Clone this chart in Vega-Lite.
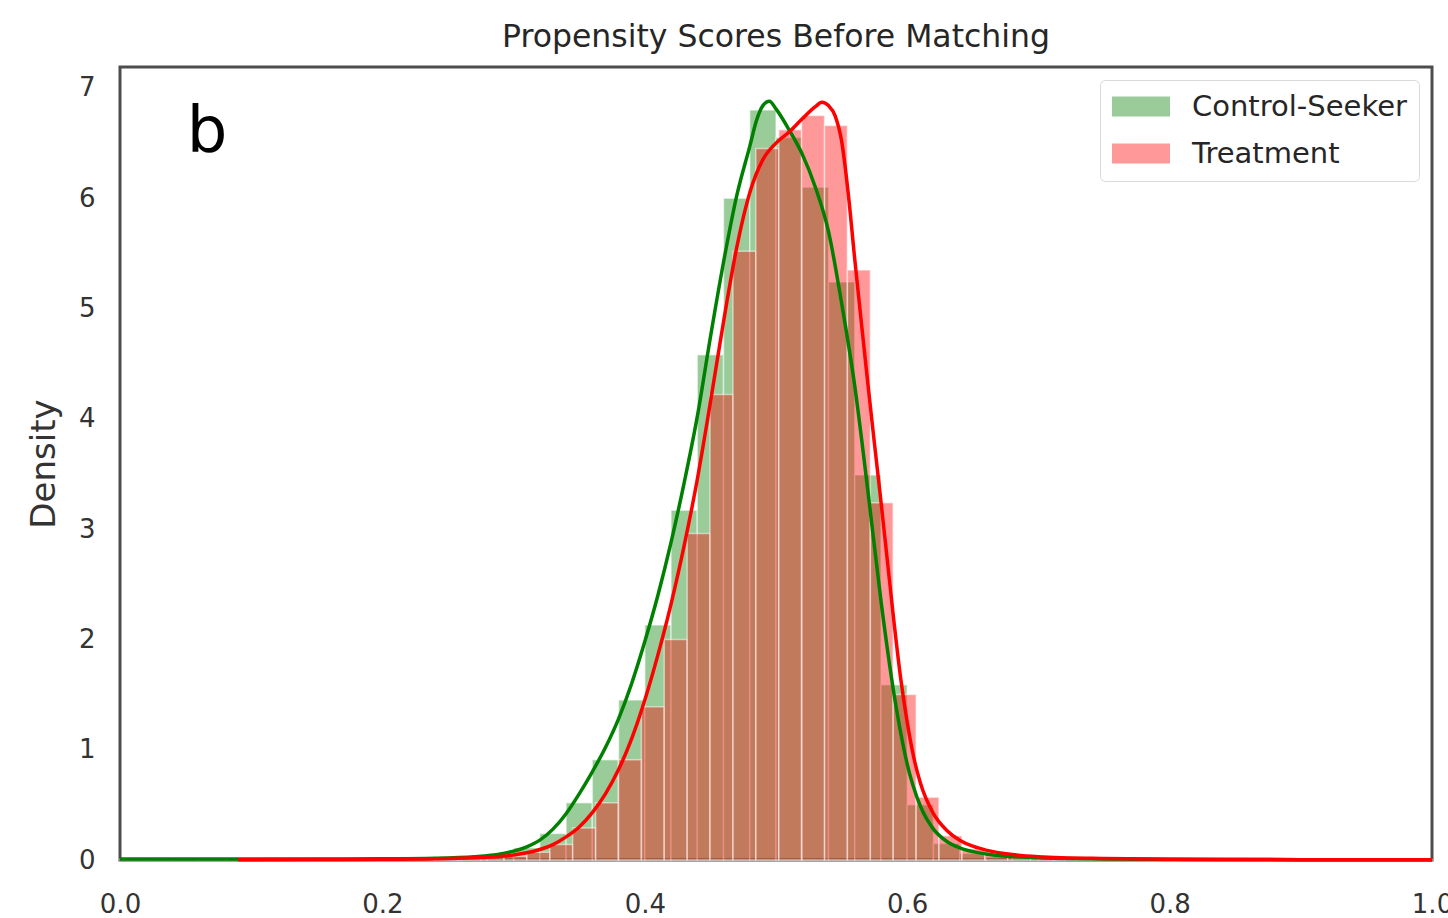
{
  "$schema": "https://vega.github.io/schema/vega-lite/v6.json",
  "width": 1312,
  "height": 793,
  "autosize": {"type": "none"},
  "padding": {"left": 120, "top": 67, "right": 16, "bottom": 58},
  "background": "white",
  "title": {
    "text": "Propensity Scores Before Matching",
    "font": "DejaVu Sans",
    "fontSize": 31.5,
    "fontWeight": "normal",
    "color": "#262626",
    "anchor": "middle",
    "offset": 14
  },
  "config": {
    "view": {"stroke": "#4d4d4d", "strokeWidth": 3},
    "axis": {
      "grid": false,
      "ticks": false,
      "domain": false,
      "labelFont": "DejaVu Sans",
      "labelFontSize": 26,
      "labelColor": "#333333",
      "titleFont": "DejaVu Sans",
      "titleFontWeight": "normal",
      "titleColor": "#333333"
    },
    "legend": {
      "orient": "top-right",
      "offset": 13,
      "symbolType": "M-1,-0.69H3V0.69H-1Z",
      "symbolSize": 841,
      "symbolOpacity": 0.4,
      "symbolStrokeWidth": 0,
      "labelFont": "DejaVu Sans",
      "labelFontSize": 29,
      "labelColor": "#262626",
      "labelOffset": 51,
      "labelLimit": 400,
      "rowPadding": 17,
      "padding": 12,
      "strokeColor": "#d9d9d9",
      "fillColor": "white",
      "cornerRadius": 5
    }
  },
  "datasets": {
    "bars": [
      {"series": "Control-Seeker", "bin_start": 0.00, "bin_end": 0.02, "density": 0.006},
      {"series": "Control-Seeker", "bin_start": 0.02, "bin_end": 0.04, "density": 0.006},
      {"series": "Control-Seeker", "bin_start": 0.04, "bin_end": 0.06, "density": 0.006},
      {"series": "Control-Seeker", "bin_start": 0.06, "bin_end": 0.08, "density": 0.006},
      {"series": "Control-Seeker", "bin_start": 0.08, "bin_end": 0.10, "density": 0.006},
      {"series": "Control-Seeker", "bin_start": 0.10, "bin_end": 0.12, "density": 0.006},
      {"series": "Control-Seeker", "bin_start": 0.12, "bin_end": 0.14, "density": 0.006},
      {"series": "Control-Seeker", "bin_start": 0.14, "bin_end": 0.16, "density": 0.007},
      {"series": "Control-Seeker", "bin_start": 0.16, "bin_end": 0.18, "density": 0.007},
      {"series": "Control-Seeker", "bin_start": 0.18, "bin_end": 0.20, "density": 0.008},
      {"series": "Control-Seeker", "bin_start": 0.20, "bin_end": 0.22, "density": 0.009},
      {"series": "Control-Seeker", "bin_start": 0.22, "bin_end": 0.24, "density": 0.011},
      {"series": "Control-Seeker", "bin_start": 0.24, "bin_end": 0.26, "density": 0.015},
      {"series": "Control-Seeker", "bin_start": 0.26, "bin_end": 0.28, "density": 0.025},
      {"series": "Control-Seeker", "bin_start": 0.28, "bin_end": 0.30, "density": 0.05},
      {"series": "Control-Seeker", "bin_start": 0.30, "bin_end": 0.32, "density": 0.11},
      {"series": "Control-Seeker", "bin_start": 0.32, "bin_end": 0.34, "density": 0.24},
      {"series": "Control-Seeker", "bin_start": 0.34, "bin_end": 0.36, "density": 0.52},
      {"series": "Control-Seeker", "bin_start": 0.36, "bin_end": 0.38, "density": 0.91},
      {"series": "Control-Seeker", "bin_start": 0.38, "bin_end": 0.40, "density": 1.45},
      {"series": "Control-Seeker", "bin_start": 0.40, "bin_end": 0.42, "density": 2.13},
      {"series": "Control-Seeker", "bin_start": 0.42, "bin_end": 0.44, "density": 3.17},
      {"series": "Control-Seeker", "bin_start": 0.44, "bin_end": 0.46, "density": 4.58},
      {"series": "Control-Seeker", "bin_start": 0.46, "bin_end": 0.48, "density": 6.0},
      {"series": "Control-Seeker", "bin_start": 0.48, "bin_end": 0.50, "density": 6.8},
      {"series": "Control-Seeker", "bin_start": 0.50, "bin_end": 0.52, "density": 6.55},
      {"series": "Control-Seeker", "bin_start": 0.52, "bin_end": 0.54, "density": 6.1},
      {"series": "Control-Seeker", "bin_start": 0.54, "bin_end": 0.56, "density": 5.24},
      {"series": "Control-Seeker", "bin_start": 0.56, "bin_end": 0.58, "density": 3.49},
      {"series": "Control-Seeker", "bin_start": 0.58, "bin_end": 0.60, "density": 1.59},
      {"series": "Control-Seeker", "bin_start": 0.60, "bin_end": 0.62, "density": 0.5},
      {"series": "Control-Seeker", "bin_start": 0.62, "bin_end": 0.64, "density": 0.15},
      {"series": "Control-Seeker", "bin_start": 0.64, "bin_end": 0.66, "density": 0.06},
      {"series": "Control-Seeker", "bin_start": 0.66, "bin_end": 0.68, "density": 0.03},
      {"series": "Control-Seeker", "bin_start": 0.68, "bin_end": 0.70, "density": 0.018},
      {"series": "Control-Seeker", "bin_start": 0.70, "bin_end": 0.72, "density": 0.012},
      {"series": "Control-Seeker", "bin_start": 0.72, "bin_end": 0.74, "density": 0.009},
      {"series": "Control-Seeker", "bin_start": 0.74, "bin_end": 0.76, "density": 0.007},
      {"series": "Control-Seeker", "bin_start": 0.76, "bin_end": 0.78, "density": 0.006},
      {"series": "Control-Seeker", "bin_start": 0.78, "bin_end": 0.80, "density": 0.005},
      {"series": "Control-Seeker", "bin_start": 0.80, "bin_end": 0.82, "density": 0.004},
      {"series": "Control-Seeker", "bin_start": 0.82, "bin_end": 0.84, "density": 0.004},
      {"series": "Control-Seeker", "bin_start": 0.84, "bin_end": 0.86, "density": 0.004},
      {"series": "Control-Seeker", "bin_start": 0.86, "bin_end": 0.88, "density": 0.004},
      {"series": "Control-Seeker", "bin_start": 0.88, "bin_end": 0.90, "density": 0.004},
      {"series": "Control-Seeker", "bin_start": 0.90, "bin_end": 0.92, "density": 0.004},
      {"series": "Control-Seeker", "bin_start": 0.92, "bin_end": 0.94, "density": 0.004},
      {"series": "Control-Seeker", "bin_start": 0.94, "bin_end": 0.96, "density": 0.004},
      {"series": "Control-Seeker", "bin_start": 0.96, "bin_end": 0.98, "density": 0.004},
      {"series": "Control-Seeker", "bin_start": 0.98, "bin_end": 1.00, "density": 0.004},
      {"series": "Treatment", "bin_start": 0.1007, "bin_end": 0.1182, "density": 0.004},
      {"series": "Treatment", "bin_start": 0.1182, "bin_end": 0.1356, "density": 0.004},
      {"series": "Treatment", "bin_start": 0.1356, "bin_end": 0.1531, "density": 0.004},
      {"series": "Treatment", "bin_start": 0.1531, "bin_end": 0.1705, "density": 0.005},
      {"series": "Treatment", "bin_start": 0.1705, "bin_end": 0.1880, "density": 0.005},
      {"series": "Treatment", "bin_start": 0.1880, "bin_end": 0.2054, "density": 0.006},
      {"series": "Treatment", "bin_start": 0.2054, "bin_end": 0.2229, "density": 0.008},
      {"series": "Treatment", "bin_start": 0.2229, "bin_end": 0.2403, "density": 0.01},
      {"series": "Treatment", "bin_start": 0.2403, "bin_end": 0.2578, "density": 0.012},
      {"series": "Treatment", "bin_start": 0.2578, "bin_end": 0.2752, "density": 0.016},
      {"series": "Treatment", "bin_start": 0.2752, "bin_end": 0.2927, "density": 0.022},
      {"series": "Treatment", "bin_start": 0.2927, "bin_end": 0.3101, "density": 0.035},
      {"series": "Treatment", "bin_start": 0.3101, "bin_end": 0.3276, "density": 0.07},
      {"series": "Treatment", "bin_start": 0.3276, "bin_end": 0.3450, "density": 0.14},
      {"series": "Treatment", "bin_start": 0.3450, "bin_end": 0.3625, "density": 0.29},
      {"series": "Treatment", "bin_start": 0.3625, "bin_end": 0.3799, "density": 0.52},
      {"series": "Treatment", "bin_start": 0.3799, "bin_end": 0.3974, "density": 0.91},
      {"series": "Treatment", "bin_start": 0.3974, "bin_end": 0.4148, "density": 1.39},
      {"series": "Treatment", "bin_start": 0.4148, "bin_end": 0.4323, "density": 2.0},
      {"series": "Treatment", "bin_start": 0.4323, "bin_end": 0.4497, "density": 2.96},
      {"series": "Treatment", "bin_start": 0.4497, "bin_end": 0.4672, "density": 4.22},
      {"series": "Treatment", "bin_start": 0.4672, "bin_end": 0.4846, "density": 5.52},
      {"series": "Treatment", "bin_start": 0.4846, "bin_end": 0.5021, "density": 6.45},
      {"series": "Treatment", "bin_start": 0.5021, "bin_end": 0.5195, "density": 6.62},
      {"series": "Treatment", "bin_start": 0.5195, "bin_end": 0.5370, "density": 6.75},
      {"series": "Treatment", "bin_start": 0.5370, "bin_end": 0.5544, "density": 6.66},
      {"series": "Treatment", "bin_start": 0.5544, "bin_end": 0.5719, "density": 5.35},
      {"series": "Treatment", "bin_start": 0.5719, "bin_end": 0.5893, "density": 3.24},
      {"series": "Treatment", "bin_start": 0.5893, "bin_end": 0.6068, "density": 1.5},
      {"series": "Treatment", "bin_start": 0.6068, "bin_end": 0.6242, "density": 0.57},
      {"series": "Treatment", "bin_start": 0.6242, "bin_end": 0.6417, "density": 0.22},
      {"series": "Treatment", "bin_start": 0.6417, "bin_end": 0.6591, "density": 0.1},
      {"series": "Treatment", "bin_start": 0.6591, "bin_end": 0.6766, "density": 0.05},
      {"series": "Treatment", "bin_start": 0.6766, "bin_end": 0.6940, "density": 0.03},
      {"series": "Treatment", "bin_start": 0.6940, "bin_end": 0.7115, "density": 0.02},
      {"series": "Treatment", "bin_start": 0.7115, "bin_end": 0.7289, "density": 0.013},
      {"series": "Treatment", "bin_start": 0.7289, "bin_end": 0.7464, "density": 0.01},
      {"series": "Treatment", "bin_start": 0.7464, "bin_end": 0.7638, "density": 0.008},
      {"series": "Treatment", "bin_start": 0.7638, "bin_end": 0.7813, "density": 0.006},
      {"series": "Treatment", "bin_start": 0.7813, "bin_end": 0.7987, "density": 0.005},
      {"series": "Treatment", "bin_start": 0.7987, "bin_end": 0.8162, "density": 0.005},
      {"series": "Treatment", "bin_start": 0.8162, "bin_end": 0.8336, "density": 0.004},
      {"series": "Treatment", "bin_start": 0.8336, "bin_end": 0.8511, "density": 0.004},
      {"series": "Treatment", "bin_start": 0.8511, "bin_end": 0.8685, "density": 0.004},
      {"series": "Treatment", "bin_start": 0.8685, "bin_end": 0.8860, "density": 0.003},
      {"series": "Treatment", "bin_start": 0.8860, "bin_end": 0.9034, "density": 0.003},
      {"series": "Treatment", "bin_start": 0.9034, "bin_end": 0.9209, "density": 0.003},
      {"series": "Treatment", "bin_start": 0.9209, "bin_end": 0.9383, "density": 0.003},
      {"series": "Treatment", "bin_start": 0.9383, "bin_end": 0.9558, "density": 0.003},
      {"series": "Treatment", "bin_start": 0.9558, "bin_end": 0.9732, "density": 0.003},
      {"series": "Treatment", "bin_start": 0.9732, "bin_end": 0.9907, "density": 0.003}
    ],
    "kde": [
      {"series": "Control-Seeker", "score": 0.00, "density": 0.008},
      {"series": "Control-Seeker", "score": 0.05, "density": 0.008},
      {"series": "Control-Seeker", "score": 0.10, "density": 0.008},
      {"series": "Control-Seeker", "score": 0.15, "density": 0.009},
      {"series": "Control-Seeker", "score": 0.20, "density": 0.011},
      {"series": "Control-Seeker", "score": 0.24, "density": 0.016},
      {"series": "Control-Seeker", "score": 0.27, "density": 0.03},
      {"series": "Control-Seeker", "score": 0.29, "density": 0.055},
      {"series": "Control-Seeker", "score": 0.30, "density": 0.08},
      {"series": "Control-Seeker", "score": 0.31, "density": 0.12},
      {"series": "Control-Seeker", "score": 0.32, "density": 0.18},
      {"series": "Control-Seeker", "score": 0.33, "density": 0.28},
      {"series": "Control-Seeker", "score": 0.34, "density": 0.42},
      {"series": "Control-Seeker", "score": 0.35, "density": 0.6},
      {"series": "Control-Seeker", "score": 0.36, "density": 0.8},
      {"series": "Control-Seeker", "score": 0.37, "density": 1.02},
      {"series": "Control-Seeker", "score": 0.38, "density": 1.28},
      {"series": "Control-Seeker", "score": 0.39, "density": 1.6},
      {"series": "Control-Seeker", "score": 0.40, "density": 1.98},
      {"series": "Control-Seeker", "score": 0.41, "density": 2.4},
      {"series": "Control-Seeker", "score": 0.42, "density": 2.88},
      {"series": "Control-Seeker", "score": 0.43, "density": 3.42},
      {"series": "Control-Seeker", "score": 0.44, "density": 4.02},
      {"series": "Control-Seeker", "score": 0.45, "density": 4.74},
      {"series": "Control-Seeker", "score": 0.46, "density": 5.42},
      {"series": "Control-Seeker", "score": 0.47, "density": 6.02},
      {"series": "Control-Seeker", "score": 0.48, "density": 6.47},
      {"series": "Control-Seeker", "score": 0.485, "density": 6.7},
      {"series": "Control-Seeker", "score": 0.49, "density": 6.84},
      {"series": "Control-Seeker", "score": 0.495, "density": 6.88},
      {"series": "Control-Seeker", "score": 0.50, "density": 6.81},
      {"series": "Control-Seeker", "score": 0.51, "density": 6.62},
      {"series": "Control-Seeker", "score": 0.52, "density": 6.4},
      {"series": "Control-Seeker", "score": 0.53, "density": 6.1},
      {"series": "Control-Seeker", "score": 0.54, "density": 5.7},
      {"series": "Control-Seeker", "score": 0.55, "density": 5.05},
      {"series": "Control-Seeker", "score": 0.56, "density": 4.3},
      {"series": "Control-Seeker", "score": 0.57, "density": 3.35},
      {"series": "Control-Seeker", "score": 0.58, "density": 2.35},
      {"series": "Control-Seeker", "score": 0.59, "density": 1.5},
      {"series": "Control-Seeker", "score": 0.60, "density": 0.87},
      {"series": "Control-Seeker", "score": 0.61, "density": 0.49},
      {"series": "Control-Seeker", "score": 0.62, "density": 0.28},
      {"series": "Control-Seeker", "score": 0.63, "density": 0.17},
      {"series": "Control-Seeker", "score": 0.64, "density": 0.11},
      {"series": "Control-Seeker", "score": 0.66, "density": 0.055},
      {"series": "Control-Seeker", "score": 0.68, "density": 0.032},
      {"series": "Control-Seeker", "score": 0.70, "density": 0.02},
      {"series": "Control-Seeker", "score": 0.75, "density": 0.01},
      {"series": "Control-Seeker", "score": 0.80, "density": 0.006},
      {"series": "Control-Seeker", "score": 0.90, "density": 0.003},
      {"series": "Control-Seeker", "score": 1.00, "density": 0.002},
      {"series": "Treatment", "score": 0.09, "density": 0.003},
      {"series": "Treatment", "score": 0.15, "density": 0.004},
      {"series": "Treatment", "score": 0.20, "density": 0.007},
      {"series": "Treatment", "score": 0.25, "density": 0.014},
      {"series": "Treatment", "score": 0.28, "density": 0.025},
      {"series": "Treatment", "score": 0.30, "density": 0.045},
      {"series": "Treatment", "score": 0.31, "density": 0.065},
      {"series": "Treatment", "score": 0.32, "density": 0.095},
      {"series": "Treatment", "score": 0.33, "density": 0.14},
      {"series": "Treatment", "score": 0.34, "density": 0.21},
      {"series": "Treatment", "score": 0.35, "density": 0.3},
      {"series": "Treatment", "score": 0.36, "density": 0.43},
      {"series": "Treatment", "score": 0.37, "density": 0.6},
      {"series": "Treatment", "score": 0.38, "density": 0.82},
      {"series": "Treatment", "score": 0.39, "density": 1.1},
      {"series": "Treatment", "score": 0.40, "density": 1.45},
      {"series": "Treatment", "score": 0.41, "density": 1.86},
      {"series": "Treatment", "score": 0.42, "density": 2.32},
      {"series": "Treatment", "score": 0.43, "density": 2.85},
      {"series": "Treatment", "score": 0.44, "density": 3.45},
      {"series": "Treatment", "score": 0.45, "density": 4.15},
      {"series": "Treatment", "score": 0.46, "density": 4.88},
      {"series": "Treatment", "score": 0.47, "density": 5.55},
      {"series": "Treatment", "score": 0.48, "density": 6.05},
      {"series": "Treatment", "score": 0.49, "density": 6.35},
      {"series": "Treatment", "score": 0.50, "density": 6.5},
      {"series": "Treatment", "score": 0.51, "density": 6.6},
      {"series": "Treatment", "score": 0.52, "density": 6.72},
      {"series": "Treatment", "score": 0.53, "density": 6.83},
      {"series": "Treatment", "score": 0.535, "density": 6.87},
      {"series": "Treatment", "score": 0.54, "density": 6.84},
      {"series": "Treatment", "score": 0.545, "density": 6.75},
      {"series": "Treatment", "score": 0.55, "density": 6.52},
      {"series": "Treatment", "score": 0.555, "density": 6.05},
      {"series": "Treatment", "score": 0.56, "density": 5.45},
      {"series": "Treatment", "score": 0.565, "density": 4.88},
      {"series": "Treatment", "score": 0.57, "density": 4.32},
      {"series": "Treatment", "score": 0.575, "density": 3.78},
      {"series": "Treatment", "score": 0.58, "density": 3.25},
      {"series": "Treatment", "score": 0.585, "density": 2.7},
      {"series": "Treatment", "score": 0.59, "density": 2.15},
      {"series": "Treatment", "score": 0.595, "density": 1.65},
      {"series": "Treatment", "score": 0.60, "density": 1.25},
      {"series": "Treatment", "score": 0.605, "density": 0.93},
      {"series": "Treatment", "score": 0.61, "density": 0.7},
      {"series": "Treatment", "score": 0.62, "density": 0.42},
      {"series": "Treatment", "score": 0.63, "density": 0.27},
      {"series": "Treatment", "score": 0.64, "density": 0.18},
      {"series": "Treatment", "score": 0.65, "density": 0.125},
      {"series": "Treatment", "score": 0.66, "density": 0.09},
      {"series": "Treatment", "score": 0.68, "density": 0.05},
      {"series": "Treatment", "score": 0.70, "density": 0.03},
      {"series": "Treatment", "score": 0.75, "density": 0.013},
      {"series": "Treatment", "score": 0.80, "density": 0.007},
      {"series": "Treatment", "score": 0.90, "density": 0.003},
      {"series": "Treatment", "score": 1.00, "density": 0.002}
    ],
    "panel": [
      {"label": "b"}
    ]
  },
  "layer": [
    {
      "data": {"name": "bars"},
      "transform": [{"filter": "datum.series === 'Control-Seeker'"}],
      "mark": {"type": "rect", "fillOpacity": 0.4, "stroke": "white", "strokeWidth": 1.5, "strokeOpacity": 0.5},
      "encoding": {
        "x": {
          "field": "bin_start",
          "type": "quantitative",
          "scale": {"domain": [0, 1], "nice": false, "zero": false},
          "axis": {
            "title": null,
            "values": [0, 0.2, 0.4, 0.6, 0.8, 1.0],
            "format": ".1f",
            "labelPadding": 31,
            "labelFlush": false,
            "labelOverlap": false
          }
        },
        "x2": {"field": "bin_end"},
        "y": {
          "field": "density",
          "type": "quantitative",
          "scale": {"domain": [0, 7.19], "nice": false},
          "axis": {
            "title": "Density",
            "titleFontSize": 34,
            "titlePadding": 17,
            "values": [0, 1, 2, 3, 4, 5, 6, 7],
            "format": "d",
            "labelPadding": 25
          }
        },
        "y2": {"datum": 0},
        "fill": {
          "field": "series",
          "type": "nominal",
          "scale": {"domain": ["Control-Seeker", "Treatment"], "range": ["#008000", "#ff0000"]},
          "legend": {"title": null}
        }
      }
    },
    {
      "data": {"name": "bars"},
      "transform": [{"filter": "datum.series === 'Treatment'"}],
      "mark": {"type": "rect", "fillOpacity": 0.4, "stroke": "white", "strokeWidth": 1.5, "strokeOpacity": 0.5},
      "encoding": {
        "x": {"field": "bin_start", "type": "quantitative"},
        "x2": {"field": "bin_end"},
        "y": {"field": "density", "type": "quantitative"},
        "y2": {"datum": 0},
        "fill": {"field": "series", "type": "nominal", "legend": {"title": null}}
      }
    },
    {
      "data": {"name": "kde"},
      "transform": [{"filter": "datum.series === 'Control-Seeker'"}],
      "mark": {"type": "line", "strokeWidth": 3.5, "interpolate": "monotone"},
      "encoding": {
        "x": {"field": "score", "type": "quantitative"},
        "y": {"field": "density", "type": "quantitative"},
        "stroke": {
          "field": "series",
          "type": "nominal",
          "scale": {"domain": ["Control-Seeker", "Treatment"], "range": ["#008000", "#ff0000"]},
          "legend": null
        }
      }
    },
    {
      "data": {"name": "kde"},
      "transform": [{"filter": "datum.series === 'Treatment'"}],
      "mark": {"type": "line", "strokeWidth": 3.5, "interpolate": "monotone"},
      "encoding": {
        "x": {"field": "score", "type": "quantitative"},
        "y": {"field": "density", "type": "quantitative"},
        "stroke": {"field": "series", "type": "nominal", "legend": null}
      }
    },
    {
      "data": {"name": "panel"},
      "mark": {"type": "text", "font": "DejaVu Sans", "fontSize": 64, "color": "#000000", "align": "center", "baseline": "alphabetic"},
      "encoding": {
        "x": {"datum": 0.0663},
        "y": {"datum": 6.42},
        "text": {"field": "label"}
      }
    }
  ]
}
